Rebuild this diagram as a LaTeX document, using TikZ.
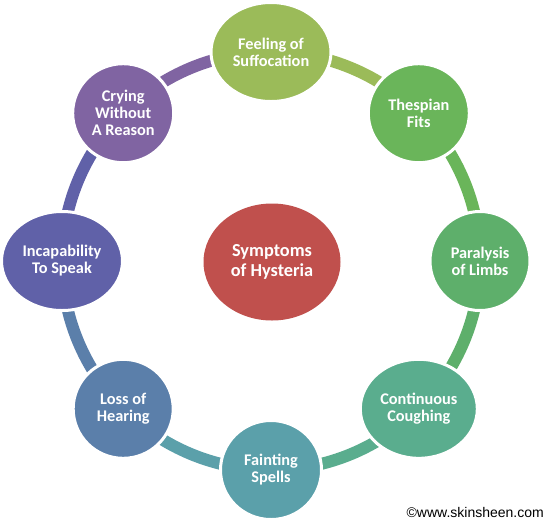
\documentclass[tikz,border=0pt]{standalone}
\usepackage{fontspec}
\setmainfont{Carlito}
\newfontfamily\arialfont{Liberation Sans}
\usetikzlibrary{shapes.geometric,backgrounds}
\definecolor{feelC}{HTML}{9BBB59}
\definecolor{thesC}{HTML}{6AB55A}
\definecolor{paraC}{HTML}{5EAF6B}
\definecolor{contC}{HTML}{5AAD8E}
\definecolor{fainC}{HTML}{5BA0AA}
\definecolor{lossC}{HTML}{5B7FAA}
\definecolor{incaC}{HTML}{6061A8}
\definecolor{cryC}{HTML}{8064A2}
\definecolor{hystC}{HTML}{C0504D}
\begin{document}
\begin{tikzpicture}[x=1pt,y=-1pt,
  bub/.style={ellipse, draw=white, line width=3pt, inner sep=0pt, text=white,
    font=\bfseries\fontsize{16.3}{17}\selectfont, align=center, minimum height=99pt},
  ring/.style={line width=12pt, line cap=butt}]
\useasboundingbox (0,0) rectangle (553,523);
\node[bub, fill=feelC, minimum width=120pt] (feel) at (271,52) {Feeling of\\Suffocation};
\node[bub, fill=thesC, minimum width=101pt] (thes) at (418.8,113.2) {Thespian\\Fits};
\node[bub, fill=paraC, minimum width=100pt] (para) at (480,261) {Paralysis\\of Limbs};
\node[bub, fill=contC, minimum width=117pt] (cont) at (418.8,408.8) {Continuous\\Coughing};
\node[bub, fill=fainC, minimum width=101pt] (fain) at (271,470) {Fainting\\Spells};
\node[bub, fill=lossC, minimum width=100pt] (loss) at (123.2,408.8) {Loss of\\Hearing};
\node[bub, fill=incaC, minimum width=121pt] (inca) at (62,261) {Incapability\\To Speak};
\node[bub, fill=cryC, minimum width=101pt] (cry) at (123.2,113.2) {Crying\\Without\\A Reason};
\node[ellipse, fill=hystC, inner sep=0pt, minimum width=137pt, minimum height=117pt,
  text=white, align=center, font=\bfseries\fontsize{18.3}{20}\selectfont] (hyst) at (272,262) {Symptoms\\of Hysteria};
\node[anchor=east, inner sep=0pt, font=\arialfont\fontsize{14}{15}\selectfont] (copy) at (544,512) {©www.skinsheen.com};
\begin{scope}[on background layer]
\fill[white] (0,0) rectangle (553,523);
\draw[ring, feelC] (feel.center) arc[start angle=90, end angle=45, radius=209pt];
\draw[ring, thesC] (thes.center) arc[start angle=45, end angle=0, radius=209pt];
\draw[ring, paraC] (para.center) arc[start angle=0, end angle=-45, radius=209pt];
\draw[ring, contC] (cont.center) arc[start angle=-45, end angle=-90, radius=209pt];
\draw[ring, fainC] (fain.center) arc[start angle=-90, end angle=-135, radius=209pt];
\draw[ring, lossC] (loss.center) arc[start angle=-135, end angle=-180, radius=209pt];
\draw[ring, incaC] (inca.center) arc[start angle=180, end angle=135, radius=209pt];
\draw[ring, cryC] (cry.center) arc[start angle=135, end angle=90, radius=209pt];
\end{scope}
\end{tikzpicture}
\end{document}
